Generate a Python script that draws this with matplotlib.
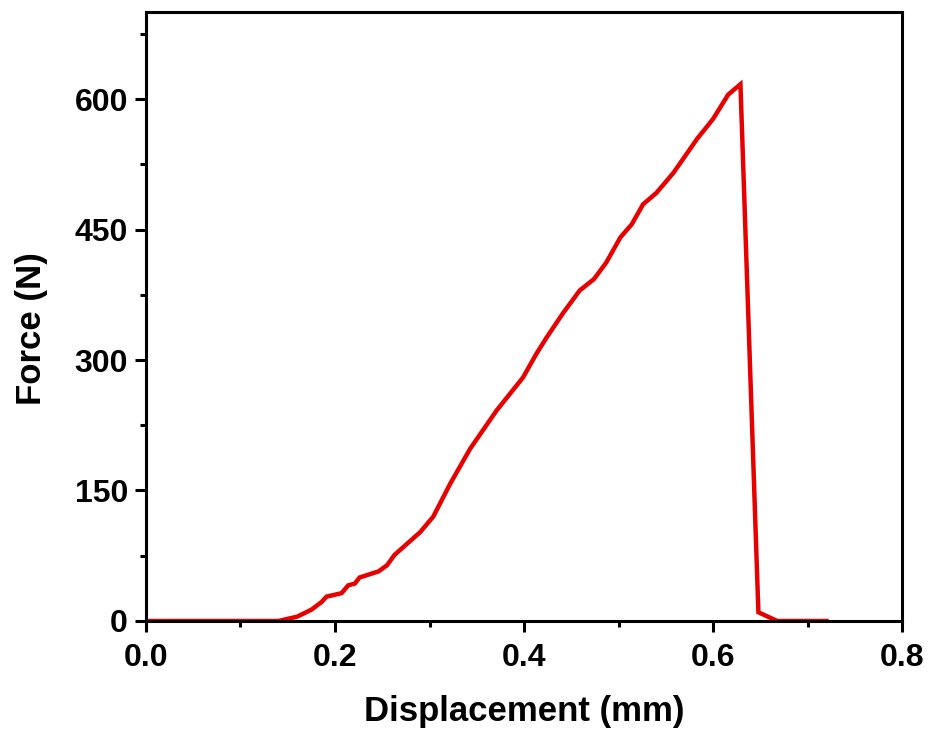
import matplotlib
matplotlib.use('Agg')
import matplotlib.pyplot as plt
from matplotlib.ticker import MultipleLocator

# displacement (mm) / force (N)
disp = [0.0, 0.10, 0.14, 0.16, 0.175, 0.186, 0.191, 0.207, 0.214, 0.221, 0.226,
        0.246, 0.255, 0.263, 0.290, 0.304, 0.322, 0.343, 0.371, 0.399, 0.413,
        0.424, 0.442, 0.459, 0.474, 0.487, 0.502, 0.514, 0.526, 0.540, 0.558,
        0.583, 0.600, 0.616, 0.629, 0.648, 0.668, 0.72]
force = [0, 0, 0, 5, 13, 22, 28, 32, 41, 43, 50,
         57, 64, 76, 102, 120, 158, 198, 242, 280, 307,
         326, 355, 380, 393, 412, 441, 456, 479, 492, 515,
         554, 577, 605, 617, 10, 0, 0]

plt.rcParams['font.family'] = ['Liberation Sans', 'DejaVu Sans']
plt.rcParams['font.weight'] = 'bold'

fig = plt.figure(figsize=(9.31, 7.37), dpi=100)
ax = fig.add_axes([0.1568, 0.1574, 0.8121, 0.8263])
ax.plot(disp, force, color='#e60000', lw=3.2, solid_joinstyle='miter')

ax.set_xlim(0, 0.8)
ax.set_ylim(0, 700)
ax.xaxis.set_major_locator(MultipleLocator(0.2))
ax.xaxis.set_minor_locator(MultipleLocator(0.1))
ax.yaxis.set_major_locator(MultipleLocator(150))
ax.yaxis.set_minor_locator(MultipleLocator(75))
ax.set_xticklabels([f'{v:.1f}' for v in ax.get_xticks()])

for s in ax.spines.values():
    s.set_linewidth(2.2)
ax.tick_params(which='major', direction='out', length=8, width=2.2, labelsize=23)
ax.tick_params(which='minor', direction='out', length=4, width=2.2)
ax.tick_params(axis='x', which='major', pad=8)
ax.tick_params(axis='y', which='major', pad=5)

ax.set_xlabel('Displacement (mm)', fontsize=25, fontweight='bold', labelpad=16)
ax.set_ylabel('Force (N)', fontsize=25, fontweight='bold', labelpad=19)
ax.yaxis.label.set_y(0.48)

fig.savefig('out.png', dpi=100)
